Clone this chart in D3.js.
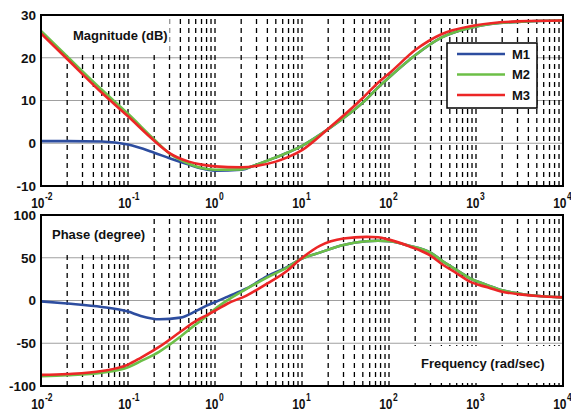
<!DOCTYPE html>
<html>
<head>
<meta charset="utf-8">
<script src="https://cdn.jsdelivr.net/npm/d3@7"></script>
<style>
  body { margin: 0; background: #fff; }
  svg text { font-family: "Liberation Sans", Arial, sans-serif; font-weight: bold; fill: #111; }
</style>
</head>
<body>
<svg id="bode" width="571" height="412"></svg>
<script>
"use strict";

// magnitude curves (dB)
const magFreq = [0.01, 0.02, 0.05, 0.1, 0.2, 0.3, 0.5, 0.7, 1, 2, 3, 5, 7, 10, 20, 50, 80, 100, 200, 400, 1000, 3000, 10000];
const magM1 = [0.5, 0.5, 0.4, -0.3, -2.2, -3.5, -5.0, -5.9, -6.4, -6.2, -5.0, -3.3, -2.1, -0.6, 3.3, 9.5, 13.6, 15.4, 20.6, 24.7, 27.3, 28.4, 28.7];
const magM2 = [26.3, 20.3, 12.5, 6.9, 0.9, -2.4, -4.8, -5.8, -6.2, -6.1, -5.0, -3.3, -2.1, -0.6, 3.3, 9.5, 13.6, 15.4, 20.6, 24.7, 27.3, 28.4, 28.7];
const magM3 = [25.7, 19.7, 11.8, 6.3, 0.6, -2.3, -4.3, -5.0, -5.4, -5.6, -5.3, -4.3, -3.2, -1.6, 3.4, 10.6, 14.7, 16.3, 21.8, 25.5, 27.6, 28.5, 28.7];

// phase curves (degree)
const phFreq = [0.01, 0.02, 0.05, 0.1, 0.14, 0.23, 0.4, 0.6, 0.8, 1, 1.4, 2.3, 4, 6.7, 9.5, 16, 30, 55, 75, 100, 170, 300, 420, 600, 850, 1350, 2000, 3200, 5000, 10000];
const phM1 = [-1, -3.5, -7.5, -13, -18, -22, -20, -12.5, -6, -2, 4.5, 14, 28.5, 39, 48, 56, 65, 69.3, 69.8, 69.3, 64, 56, 45.5, 35.5, 26, 18, 12, 8, 5.5, 3.7];
const phM2 = [-88.5, -87.5, -84.5, -78, -71, -59.7, -42.3, -28, -18.5, -10, 0.5, 13.5, 27, 38.5, 48, 56, 65, 69.3, 69.8, 69.3, 64, 56, 45.5, 35.5, 26, 18, 12, 8, 5.5, 3.7];
const phM3 = [-87, -86, -82.5, -75, -67, -54, -36.6, -24, -17.3, -12, -3.5, 5.8, 20, 34.6, 48, 64, 72.5, 74.4, 74, 71.2, 63.5, 52.5, 41.5, 31.8, 22, 15.4, 10.3, 7.2, 5.3, 3.7];

const seriesNames = ["M1", "M2", "M3"];
const seriesColors = ["#2d4d9f", "#6cbf47", "#ec2626"];

const decades = [-2, -1, 0, 1, 2, 3, 4];
const magTicks = [-10, 0, 10, 20, 30];
const magGrid = [0, 10, 20];
const phTicks = [-100, -50, 0, 50, 100];
const phGrid = [-50, 0, 50];

let svg = d3.select("svg#bode");
let left = 41, right = 563;

let x = d3.scaleLog().domain([1e-2, 1e4]).range([left, right]);

// minor + major dashed positions: 2..10 in each decade
let vLines = [];
decades.slice(0, -1).forEach(function(d) {
    for (let k = 2; k <= 10; k++) vLines.push(k * Math.pow(10, d));
});
vLines = vLines.filter((v) => v < 1e4 * 0.999);

function drawPanel(opts) {
    let y = d3.scaleLinear().domain(opts.domain).range([opts.bottom, opts.top]);
    let g = svg.append("g");

    g.append("clipPath").attr("id", opts.id + "clip")
        .append("rect")
        .attr("x", left).attr("y", opts.top)
        .attr("width", right - left).attr("height", opts.bottom - opts.top);

    g.selectAll("line.hgrid").data(opts.grid).enter().append("line")
        .attr("class", "hgrid")
        .attr("x1", left).attr("x2", right)
        .attr("y1", (d) => y(d)).attr("y2", (d) => y(d))
        .attr("stroke", "#a0a0a0").attr("stroke-width", 1.2);

    g.selectAll("line.vgrid").data(vLines).enter().append("line")
        .attr("class", "vgrid")
        .attr("x1", (d) => x(d)).attr("x2", (d) => x(d))
        .attr("y1", opts.bottom).attr("y2", opts.top)
        .attr("stroke", "#000").attr("stroke-width", 1.3)
        .attr("stroke-dasharray", "5,4");

    // text labels with a white box behind them
    opts.labels.forEach(function(lb) {
        let bg = g.append("rect").attr("fill", "#fff");
        let t = g.append("text")
            .attr("x", lb.x).attr("y", lb.y)
            .attr("font-size", 13)
            .text(lb.text);
        let bb = t.node().getBBox();
        let x0 = Math.max(left + 1, bb.x - lb.pad[3]),
            y0 = Math.max(opts.top + 1, bb.y - lb.pad[0]),
            x1 = Math.min(right - 1, bb.x + bb.width + lb.pad[1]),
            y1 = Math.min(opts.bottom - 1, bb.y + bb.height + lb.pad[2]);
        bg.attr("x", x0).attr("y", y0).attr("width", x1 - x0).attr("height", y1 - y0);
    });

    let line = d3.line()
        .x((d) => x(d[0]))
        .y((d) => y(d[1]))
        .curve(d3.curveMonotoneX);

    opts.series.forEach(function(vals, i) {
        g.append("path")
            .datum(opts.freq.map((f, j) => [f, vals[j]]))
            .attr("clip-path", "url(#" + opts.id + "clip)")
            .attr("d", line)
            .attr("fill", "none")
            .attr("stroke", seriesColors[i])
            .attr("stroke-width", 2.6)
            .attr("stroke-linejoin", "round");
    });

    g.append("rect")
        .attr("x", left).attr("y", opts.top)
        .attr("width", right - left).attr("height", opts.bottom - opts.top)
        .attr("fill", "none").attr("stroke", "#000").attr("stroke-width", 2);

    // y tick labels
    g.selectAll("text.ytick").data(opts.ticks).enter().append("text")
        .attr("class", "ytick")
        .attr("x", 36).attr("y", (d) => y(d))
        .attr("dy", "0.36em")
        .attr("text-anchor", "end")
        .attr("font-size", 13.5)
        .text((d) => d);

    // x tick labels: 10 with superscript exponent
    let xl = g.selectAll("g.xtick").data(decades).enter().append("g")
        .attr("class", "xtick")
        .attr("transform", (d) => "translate(" + (x(Math.pow(10, d)) + 3.5) + "," + opts.labelY + ")");
    xl.append("text")
        .attr("text-anchor", "end")
        .attr("font-size", 15)
        .attr("transform", "scale(0.8,1)")
        .text("10");
    xl.append("text")
        .attr("x", 0.5).attr("y", -8)
        .attr("font-size", 10)
        .attr("transform", "scale(0.85,1)")
        .text((d) => d);

    return y;
}

drawPanel({
    id: "mag", top: 15, bottom: 186, domain: [-10, 30],
    ticks: magTicks, grid: magGrid, labelY: 208,
    freq: magFreq, series: [magM1, magM2, magM3],
    labels: [{ text: "Magnitude (dB)", x: 73, y: 39.5, pad: [9, 2, 9, 10] }]
});

drawPanel({
    id: "ph", top: 215, bottom: 386, domain: [-100, 100],
    ticks: phTicks, grid: phGrid, labelY: 409,
    freq: phFreq, series: [phM1, phM2, phM3],
    labels: [
        { text: "Phase (degree)", x: 52, y: 239, pad: [16, 4, 9, 8] },
        { text: "Frequency (rad/sec)", x: 421, y: 368, pad: [10, 20, 12, 18] }
    ]
});

// legend
let legend = svg.append("g").attr("transform", "translate(447,43)");
legend.append("rect")
    .attr("width", 90).attr("height", 65)
    .attr("fill", "#fff").attr("stroke", "#000").attr("stroke-width", 1.5);
let items = legend.selectAll("g.item").data(seriesNames).enter().append("g")
    .attr("class", "item")
    .attr("transform", (d, i) => "translate(0," + (11 + i * 20.5) + ")");
items.append("line")
    .attr("x1", 10).attr("x2", 58)
    .attr("stroke", (d, i) => seriesColors[i])
    .attr("stroke-width", 2.6);
items.append("text")
    .attr("x", 65).attr("dy", "0.36em")
    .attr("font-size", 13)
    .text((d) => d);
</script>
</body>
</html>
